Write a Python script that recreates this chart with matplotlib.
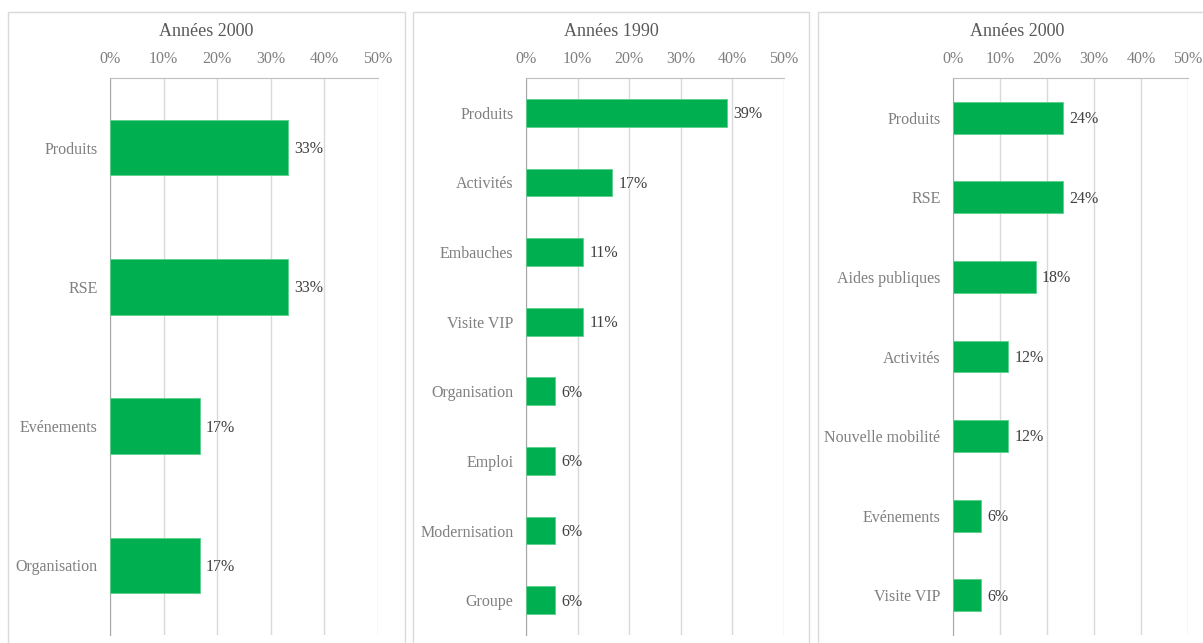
import matplotlib
matplotlib.use('Agg')
import matplotlib.pyplot as plt
from matplotlib.patches import Rectangle
from matplotlib.ticker import FuncFormatter

plt.rcParams.update({'font.family': ['Liberation Serif', 'DejaVu Serif'], 'font.size': 11})

GREEN = '#00B050'
TICK_C, TITLE_C, LABEL_C = '#7f7f7f', '#595959', '#404040'

# data
titles = ['Années 2000', 'Années 1990', 'Années 2000']
cats_1 = ['Produits', 'RSE', 'Evénements', 'Organisation']
vals_1 = [0.333, 0.333, 0.167, 0.167]
cats_2 = ['Produits', 'Activités', 'Embauches', 'Visite VIP', 'Organisation',
          'Emploi', 'Modernisation', 'Groupe']
vals_2 = [0.389, 0.167, 0.111, 0.111, 0.056, 0.056, 0.056, 0.056]
cats_3 = ['Produits', 'RSE', 'Aides publiques', 'Activités', 'Nouvelle mobilité',
          'Evénements', 'Visite VIP']
vals_3 = [0.235, 0.235, 0.176, 0.118, 0.118, 0.059, 0.059]

W, H = 1203, 643
fig = plt.figure(figsize=(W / 100, H / 100), dpi=100)

# panel frames (px): left, right ; axes left, axes right
frames = [(8, 405, 110, 378), (413, 809, 526, 784), (818, 1216, 953, 1188)]
ax_top, ax_bot = 78, 635

for (fl, fr, al, ar), title, cats, vals in zip(frames, titles,
                                               [cats_1, cats_2, cats_3],
                                               [vals_1, vals_2, vals_3]):
    fig.patches.append(Rectangle((fl / W, -0.05), (fr - fl) / W, 1.05 - 12 / H,
                                 transform=fig.transFigure, fill=False,
                                 ec='#d9d9d9', lw=1))
    ax = fig.add_axes([al / W, 1 - ax_bot / H, (ar - al) / W, (ax_bot - ax_top) / H])
    n = len(cats)
    ax.barh(range(n), vals, height=0.4, color=GREEN, ec='#5cd08c', lw=0.6, zorder=3)
    for i, v in enumerate(vals):
        ax.annotate(f'{v * 100:.0f}%', xy=(v, i), xytext=(4.5, -1),
                    textcoords='offset points', va='center', ha='left',
                    color=LABEL_C, fontsize=11.5)
    ax.set_ylim(n - 0.5, -0.5)
    ax.set_yticks(range(n))
    ax.set_yticklabels(cats, fontsize=11.5)
    ax.set_xlim(0, 0.5)
    ax.set_xticks([0, 0.1, 0.2, 0.3, 0.4, 0.5])
    ax.xaxis.set_major_formatter(FuncFormatter(lambda x, p: f'{x * 100:.0f}%'))
    ax.xaxis.tick_top()
    ax.tick_params(axis='both', length=0, colors=TICK_C)
    ax.tick_params(axis='x', labelsize=11.5, pad=8)
    ax.tick_params(axis='y', pad=9)
    ax.grid(True, axis='x', color='#d9d9d9', lw=1, zorder=0)
    for s in ['right', 'bottom']:
        ax.spines[s].set_visible(False)
    ax.spines['top'].set_color('#bfbfbf')
    ax.spines['left'].set_color('#a6a6a6')
    fig.text((fl + fr) / 2 / W, 1 - 32 / H, title, ha='center', va='center',
             fontsize=13, color=TITLE_C)

plt.savefig('out.png', dpi=100)
